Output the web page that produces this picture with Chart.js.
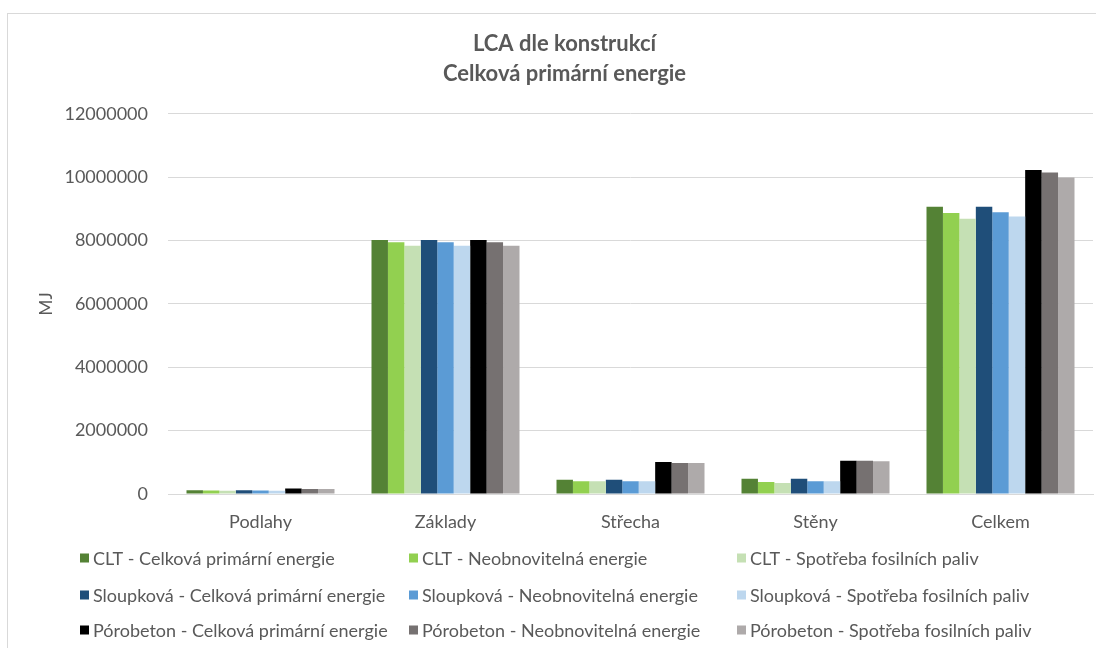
<!DOCTYPE html>
<html lang="cs">
<head>
<meta charset="utf-8">
<title>LCA dle konstrukcí</title>
<script src="https://cdn.jsdelivr.net/npm/chart.js@4/dist/chart.umd.min.js"></script>
<style>
  html, body { margin: 0; padding: 0; background: #fff; overflow: hidden; width: 1096px; height: 648px; }
  #frame {
    position: absolute; left: 7px; top: 13px;
    width: 1130px; height: 670px;
    border-left: 1px solid #d9d9d9; border-top: 1px solid #d9d9d9;
    background: #fff;
  }
  #wrap { position: absolute; left: 0; top: 0; width: 1118px; height: 660px; }
</style>
</head>
<body>
<div id="frame"><div id="wrap"><canvas id="c"></canvas></div></div>
<script>
// Construction parts and the overall total
const categories = ['Podlahy', 'Základy', 'Střecha', 'Stěny', 'Celkem'];

// Energy values in MJ per construction variant
const cltTotal      = [120000, 8020000, 450000, 480000, 9070000];
const cltNonRenew   = [110000, 7950000, 400000, 380000, 8870000];
const cltFossil     = [100000, 7840000, 400000, 350000, 8690000];
const sloupTotal    = [120000, 8020000, 450000, 480000, 9070000];
const sloupNonRenew = [110000, 7950000, 400000, 400000, 8890000];
const sloupFossil   = [100000, 7840000, 400000, 400000, 8760000];
const poroTotal     = [170000, 8020000, 1010000, 1050000, 10230000];
const poroNonRenew  = [160000, 7950000, 980000, 1050000, 10150000];
const poroFossil    = [160000, 7840000, 980000, 1030000, 9990000];

const seriesNames = [
  'CLT - Celková primární energie', 'CLT - Neobnovitelná energie', 'CLT - Spotřeba fosilních paliv',
  'Sloupková - Celková primární energie', 'Sloupková - Neobnovitelná energie', 'Sloupková - Spotřeba fosilních paliv',
  'Pórobeton - Celková primární energie', 'Pórobeton - Neobnovitelná energie', 'Pórobeton - Spotřeba fosilních paliv'
];
const seriesValues = [cltTotal, cltNonRenew, cltFossil, sloupTotal, sloupNonRenew, sloupFossil, poroTotal, poroNonRenew, poroFossil];
const seriesColors = ['#548235', '#92d050', '#c5e0b4', '#1f4e79', '#5b9bd5', '#bdd7ee', '#000000', '#767171', '#aeaaaa'];

const yTicks = [0, 2000000, 4000000, 6000000, 8000000, 10000000, 12000000];

const FONT = 'Lato, "Open Sans", sans-serif';
const TEXT = '#595959';

// Three-column legend laid out under the plot
const gridLegend = {
  id: 'gridLegend',
  afterDraw(chart) {
    const ctx = chart.ctx;
    const colX = [72, 401, 729];
    const rowY = [544, 581, 616];
    const box = 9;
    ctx.save();
    ctx.font = '18px ' + FONT;
    ctx.textBaseline = 'middle';
    ctx.textAlign = 'left';
    chart.data.datasets.forEach((ds, i) => {
      const x = colX[i % 3], y = rowY[Math.floor(i / 3)];
      ctx.fillStyle = ds.backgroundColor;
      ctx.fillRect(x, y - box / 2, box, box);
      ctx.fillStyle = TEXT;
      ctx.fillText(ds.label, x + 13, y + 1);
    });
    ctx.restore();
  }
};

new Chart(document.getElementById('c'), {
  type: 'bar',
  data: {
    labels: categories,
    datasets: seriesNames.map((name, i) => ({
      label: name,
      data: seriesValues[i],
      backgroundColor: seriesColors[i],
      borderWidth: 0,
      categoryPercentage: 0.8,
      barPercentage: 1.0
    }))
  },
  options: {
    responsive: true,
    maintainAspectRatio: false,
    animation: false,
    layout: { padding: { top: 15, left: 28, right: 33, bottom: 140 } },
    plugins: {
      legend: { display: false },
      tooltip: { enabled: false },
      title: {
        display: true,
        text: ['LCA dle konstrukcí', 'Celková primární energie'],
        color: TEXT,
        font: { family: FONT, size: 22, weight: 'bold', lineHeight: 1.36 },
        padding: { top: 0, bottom: 25 }
      }
    },
    scales: {
      x: {
        grid: { display: false, drawTicks: false },
        border: { display: true, color: '#d9d9d9', width: 1 },
        ticks: { color: TEXT, font: { family: FONT, size: 18 }, padding: 17 },
        afterFit(s) { s.height = 40; }
      },
      y: {
        min: 0,
        max: 12000000,
        afterBuildTicks(s) { s.ticks = yTicks.map(v => ({ value: v })); },
        grid: { color: '#d9d9d9', lineWidth: 1, drawTicks: false },
        border: { display: false },
        ticks: { color: TEXT, font: { family: FONT, size: 18 }, padding: 20, callback: v => String(v) },
        title: { display: true, text: 'MJ', color: TEXT, font: { family: FONT, size: 17 }, padding: 0 },
        afterFit(s) { s.width = 132; }
      }
    }
  },
  plugins: [gridLegend]
});
</script>
</body>
</html>
